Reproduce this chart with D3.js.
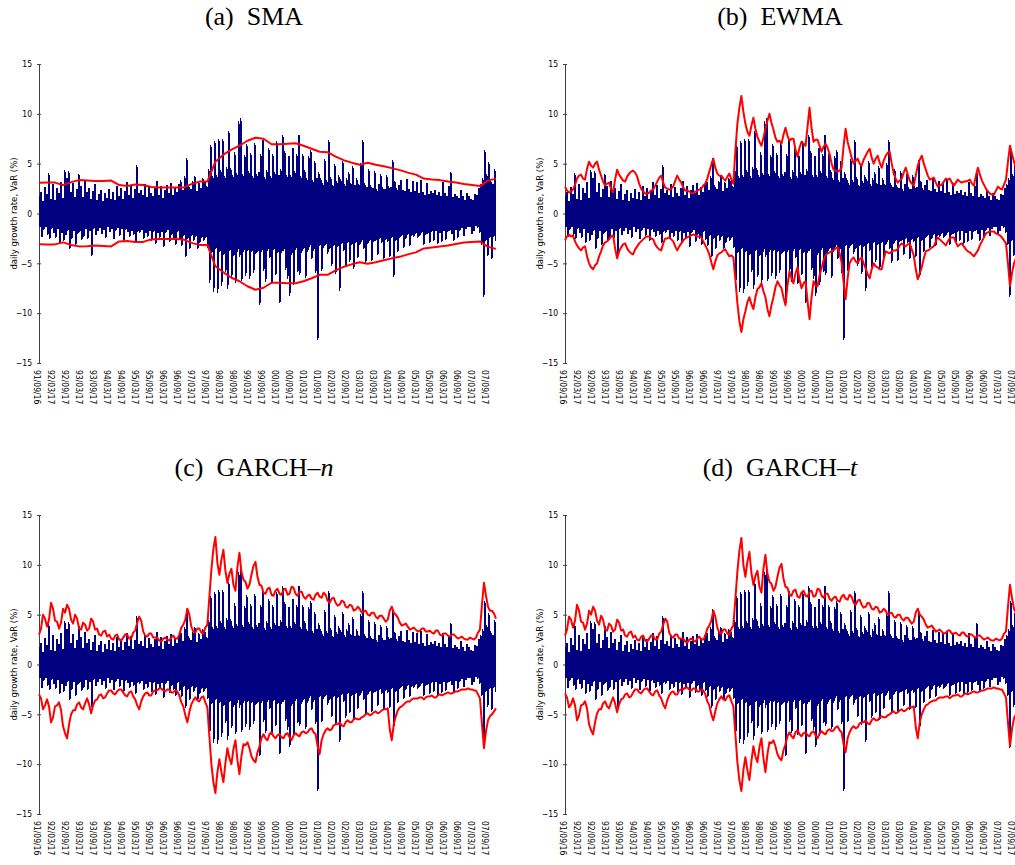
<!DOCTYPE html>
<html>
<head>
<meta charset="utf-8">
<script src="https://cdn.jsdelivr.net/npm/d3@7"></script>
<style>
  html, body { margin: 0; padding: 0; background: #fff; }
  svg { display: block; }
  .title { font-family: "Liberation Serif", "Times New Roman", serif; font-size: 26px; fill: #000; white-space: pre; }
  .ylab { font-family: "DejaVu Sans Condensed", "DejaVu Sans", sans-serif; font-size: 9.5px; fill: #000; }
  .tick text, .xlab { font-family: "DejaVu Sans Condensed", "DejaVu Sans", sans-serif; font-size: 8.5px; fill: #000; }
</style>
</head>
<body>
<svg id="chart" width="1015" height="865"></svg>
<script>
// Daily growth rate (%) of the index, one value per plotted step, 1991/09/16 onward
const growthRate = [
  1.8,-1.4,2.2,-2.4,1.3,-1.7,2.7,-1.4,2.0,-2.2,
  4.1,-2.6,1.5,-1.6,3.0,-2.0,1.4,-2.5,2.6,-1.6,
  2.1,-3.0,3.2,-2.0,1.6,-2.8,4.4,-2.2,3.6,-1.8,
  4.3,-3.6,2.2,-2.6,3.1,-1.8,1.7,-3.2,2.5,-2.1,
  4.0,-1.9,2.8,-2.7,1.7,-2.4,3.3,-1.6,2.2,-2.6,
  2.6,-1.8,1.5,-4.3,2.3,-1.6,3.0,-2.2,1.4,-1.8,
  2.0,-1.5,2.4,-2.1,1.3,-1.7,2.1,-2.5,1.6,-1.4,
  2.5,-1.9,1.5,-1.6,2.2,-2.6,1.4,-1.8,2.8,-1.5,
  1.8,-2.3,2.6,-1.6,1.5,-2.8,2.3,-1.7,3.2,-1.9,
  1.9,-2.4,2.9,-1.8,1.6,-2.2,2.5,-3.0,4.9,-1.9,2.1,
  -2.0,2.4,-1.7,1.9,-2.6,3.0,-2.0,1.7,-2.4,2.7,
  -1.8,2.1,-2.8,1.8,-1.9,2.6,-3.1,3.3,-2.0,1.9,
  -2.5,2.8,-1.9,1.6,-3.4,2.4,-2.0,2.9,-1.7,2.1,
  -2.9,3.1,-2.2,1.9,-2.6,2.7,-3.2,2.2,-1.9,3.0,
  -2.7,3.4,-3.3,2.4,-2.3,3.8,-4.4,5.6,-2.6,2.9,
  -3.6,2.5,-2.3,3.3,-2.8,3.8,-2.4,2.3,-3.6,3.2,
  -3.0,2.6,-2.5,3.6,-2.8,3.3,-2.5,2.8,-3.5,4.5,
  -7.0,6.9,-4.0,3.8,-7.9,7.3,-3.6,3.9,-8.0,7.5,
  -3.9,4.4,-7.3,7.5,-4.2,3.8,-5.9,4.7,-7.6,8.3,
  -3.8,4.6,-6.4,3.9,-4.3,6.2,-7.0,4.1,-3.9,9.3,
  -4.4,9.6,-6.8,4.0,-3.9,5.9,-6.3,7.0,-3.8,4.3,
  -6.6,6.1,-3.9,3.8,-6.0,7.1,-4.1,4.0,-3.9,4.2,
  -9.2,6.0,-3.9,7.4,-5.8,3.7,-6.9,4.4,-3.8,6.6,
  -4.5,3.8,-7.1,6.0,-3.7,4.2,-6.2,7.3,-4.0,3.9,
  -9.0,4.5,-4.0,7.9,-3.8,6.3,-5.7,3.9,-6.6,5.8,
  -8.3,3.9,-4.2,6.6,-7.2,4.3,-3.7,6.0,-5.9,
  7.9,-6.2,3.8,-4.0,6.0,-3.6,4.4,-6.5,3.6,-3.9,
  5.8,-3.4,6.4,-4.6,3.4,-3.8,5.3,-6.0,3.6,-12.7,
  4.2,-3.3,3.6,-5.8,3.1,-3.5,5.5,-3.2,3.4,-4.1,
  7.4,-3.6,3.7,-5.3,2.9,-3.3,5.0,-6.1,3.3,-3.4,3.9,
  -7.8,3.5,-3.1,5.3,-3.8,3.0,-5.4,3.6,-3.0,4.2,
  -4.9,3.1,-3.2,4.8,-5.6,2.9,-3.0,3.6,-4.5,3.0,
  -3.2,5.1,-2.9,7.4,-3.6,3.1,-5.0,2.7,-3.1,4.5,
  -2.8,2.9,-4.8,2.6,-2.9,4.3,-2.8,2.5,-4.2,3.0,
  -2.6,4.0,-3.0,2.7,-4.6,2.5,-2.7,3.9,-2.9,2.8,
  -4.4,2.7,-2.5,5.4,-6.4,3.3,-2.8,2.6,-3.9,2.9,
  -2.5,3.4,-2.3,2.4,-3.5,2.3,-2.6,3.5,-2.2,2.5,
  -3.3,2.2,-2.3,3.3,-2.4,2.3,-2.1,3.2,-2.5,2.1,
  -2.3,3.4,-2.0,2.2,-3.2,1.9,-2.2,3.1,-2.1,
  2.0,-3.0,2.3,-1.9,2.1,-2.8,2.4,-1.8,1.9,-3.1,
  2.2,-2.0,1.8,-2.9,3.2,-1.8,2.1,-2.7,1.8,-1.9,
  2.8,-1.8,4.2,-2.1,1.7,-2.8,2.0,-1.7,1.8,-2.5,
  1.6,-1.8,2.4,-1.5,1.8,-2.3,1.4,-1.6,2.1,-1.4,
  1.8,-1.4,1.5,-2.1,1.4,-1.8,2.0,-1.3,1.9,-1.5,
  2.6,-2.0,3.0,-3.2,3.6,-8.4,6.4,-2.8,4.0,-4.3,
  5.2,-2.5,3.4,-4.6,3.0,-2.4,4.5,-2.8
];

// VaR bands (%), evenly spaced over the same period
const smaUpper = [3.08,3.10,3.10,2.85,3.15,3.35,3.30,3.25,3.25,3.30,2.85,2.75,2.90,2.85,2.65,2.60,2.60,2.60,2.60,2.95,3.20,3.20,5.2,5.9,6.4,6.8,7.3,7.6,7.5,6.95,6.95,7.0,7.05,6.8,6.5,6.2,6.15,5.7,5.35,5.1,4.9,5.1,4.9,4.75,4.55,4.35,4.1,3.9,3.5,3.4,3.35,3.2,3.1,2.95,2.85,2.75,3.3,3.5];
const smaLower = [-3.08,-3.12,-3.10,-2.90,-3.15,-3.30,-3.28,-3.20,-3.25,-3.30,-2.80,-2.75,-2.85,-2.85,-2.60,-2.55,-2.55,-2.55,-2.60,-2.95,-3.15,-3.15,-5.3,-5.9,-6.45,-6.8,-7.3,-7.65,-7.45,-6.95,-6.95,-7.0,-7.0,-6.8,-6.5,-6.15,-6.15,-5.7,-5.35,-5.1,-4.9,-5.05,-4.9,-4.7,-4.5,-4.35,-4.1,-3.9,-3.5,-3.4,-3.3,-3.2,-3.05,-2.9,-2.85,-2.8,-3.35,-3.55];

const ewmaUpper = [
  2.7,2.3,2.1,2.2,2.4,2.9,3.5,3.8,3.9,3.5,
  3.4,4.5,5.2,4.8,4.6,5.0,5.2,4.4,3.8,3.2,
  2.8,3.0,3.1,2.5,2.1,3.4,4.4,3.9,3.6,3.3,
  3.2,3.7,4.0,4.2,4.3,4.1,3.7,3.0,2.5,2.2,
  2.0,2.0,2.1,2.3,2.4,2.8,3.2,3.6,3.8,3.1,
  2.6,2.5,2.4,2.5,2.7,3.3,3.8,3.4,3.1,2.6,
  2.3,2.3,2.2,2.1,2.0,2.2,2.3,2.4,2.5,2.8,
  3.0,3.5,4.2,4.9,5.5,4.6,4.0,3.8,3.8,3.5,
  3.3,3.7,4.0,3.4,3.0,6.3,9.0,10.6,11.8,10.2,
  9.0,8.2,7.8,8.8,9.6,8.5,7.7,7.2,6.8,7.6,
  8.5,9.3,10.0,9.1,8.4,7.6,7.2,7.3,7.0,7.9,
  8.6,7.8,7.3,7.5,7.5,6.4,5.7,6.6,7.2,7.0,
  6.8,8.7,10.6,8.6,7.2,7.4,7.4,6.8,6.2,6.7,
  7.0,6.6,6.0,5.0,4.4,4.3,4.2,4.3,4.6,6.8,
  8.5,7.2,6.4,5.6,5.0,5.3,5.5,5.0,4.8,5.4,
  5.8,6.2,6.5,5.6,5.0,5.5,5.8,5.1,4.6,5.3,
  5.8,6.1,6.2,5.0,4.0,3.5,3.1,3.3,3.5,4.1,
  4.6,3.9,3.3,3.0,2.8,3.8,4.8,5.4,5.8,5.0,
  4.4,3.8,3.4,3.5,3.6,3.1,2.7,2.8,2.9,3.2,
  3.5,3.4,3.5,3.1,2.8,3.1,3.4,3.2,3.1,3.2,
  3.2,3.3,3.4,3.0,2.8,3.8,4.6,3.9,3.3,2.9,
  2.5,2.2,2.0,1.9,1.9,2.3,2.7,2.5,2.4,2.9,
  3.4,5.2,6.8,6.0,5.2,4.6,4.2,4.3,4.4
];
const ewmaLower = [
  -2.7,-2.3,-2.1,-2.3,-2.2,-2.8,-3.2,-3.5,-3.7,-3.4,
  -3.3,-4.3,-5.0,-5.4,-5.6,-5.2,-5.0,-4.3,-3.8,-3.2,
  -2.9,-2.8,-2.6,-2.3,-2.2,-3.5,-4.5,-3.8,-3.4,-3.1,
  -3.0,-3.5,-3.8,-4.0,-4.1,-3.6,-3.3,-3.0,-2.8,-2.6,
  -2.4,-2.3,-2.3,-2.5,-2.6,-3.1,-3.4,-3.6,-3.7,-3.0,
  -2.5,-2.5,-2.4,-2.6,-2.8,-3.3,-3.7,-3.3,-3.0,-2.7,
  -2.5,-2.4,-2.3,-2.2,-2.1,-2.2,-2.3,-2.3,-2.4,-2.8,
  -3.2,-3.6,-4.1,-4.9,-5.6,-4.8,-4.2,-4.0,-3.9,-3.7,
  -3.6,-4.0,-4.3,-4.2,-4.4,-6.6,-9.0,-10.8,-11.9,-10.6,
  -9.8,-8.9,-8.4,-9.1,-9.6,-8.4,-7.6,-7.4,-7.0,-7.8,
  -8.4,-9.6,-10.3,-9.2,-8.4,-7.4,-6.8,-7.2,-7.5,-8.4,
  -9.2,-7.2,-5.8,-6.5,-7.0,-6.0,-5.4,-6.6,-7.5,-7.0,
  -6.8,-8.8,-10.6,-8.4,-6.8,-7.2,-7.3,-6.2,-5.5,-4.7,
  -4.2,-4.0,-3.9,-3.8,-3.7,-3.5,-3.4,-4.0,-4.9,-6.9,
  -8.6,-6.5,-5.0,-4.6,-4.4,-4.8,-5.0,-4.6,-4.4,-5.0,
  -5.5,-6.1,-6.5,-5.6,-5.0,-5.3,-5.4,-5.6,-5.6,-4.6,
  -3.8,-3.9,-4.0,-3.8,-3.7,-3.7,-3.6,-3.2,-3.0,-3.2,
  -3.3,-3.1,-3.0,-3.6,-4.2,-5.6,-6.6,-6.0,-5.4,-4.5,
  -3.8,-3.7,-3.6,-3.4,-3.3,-2.8,-2.4,-2.6,-2.8,-3.0,
  -3.2,-2.8,-2.5,-2.4,-2.4,-2.9,-3.3,-3.1,-3.0,-3.3,
  -3.6,-3.8,-3.9,-4.1,-4.3,-4.0,-3.7,-3.2,-2.8,-2.4,
  -2.0,-1.9,-1.8,-1.8,-1.8,-2.0,-2.1,-2.2,-2.4,-2.7,
  -3.0,-5.0,-7.3,-6.0,-5.0,-4.5,-4.0,-4.1,-4.2
];

const garchNUpper = [
  3.0,3.6,5.0,4.6,3.8,4.5,6.2,5.6,4.4,4.3,
  3.6,4.2,5.6,5.2,6.0,5.6,4.5,4.1,5.0,4.6,
  3.6,3.5,4.2,4.0,3.4,3.6,4.6,4.3,3.5,3.6,
  3.0,2.9,3.3,3.4,2.8,3.0,2.6,2.5,2.9,3.0,
  2.5,2.4,2.7,3.0,3.0,2.6,2.6,3.2,3.4,4.2,
  4.8,4.4,3.3,2.9,2.8,3.1,3.1,2.7,2.7,2.7,
  2.4,2.3,2.6,2.7,2.5,2.4,2.7,2.9,2.6,2.6,
  3.0,3.7,4.0,4.5,5.6,5.0,3.8,3.3,3.2,3.6,
  3.6,3.2,3.1,3.7,4.0,6.8,9.5,11.6,12.8,10.2,
  9.0,10.5,11.5,9.4,8.2,9.1,9.6,8.0,7.4,9.8,
  11.2,9.3,8.5,8.3,7.6,8.0,9.0,9.9,10.3,8.8,
  8.0,7.9,7.2,7.1,7.6,7.7,7.0,6.9,7.4,7.6,
  7.1,7.0,7.5,7.6,7.0,7.1,7.8,7.7,7.1,6.9,
  7.3,7.3,6.8,6.6,6.9,7.0,6.6,6.5,7.0,7.2,
  6.8,6.7,7.2,7.0,6.4,6.2,6.6,6.7,6.2,5.9,
  6.0,6.4,6.3,5.8,5.7,6.0,5.9,5.4,5.5,5.8,
  5.6,5.2,5.3,5.4,5.0,4.9,5.2,5.2,4.8,4.6,
  4.9,4.9,4.6,4.3,4.5,5.4,5.8,5.2,5.0,4.7,
  4.2,3.9,4.0,4.1,3.8,3.5,3.6,3.7,3.5,3.3,
  3.4,3.6,3.6,3.3,3.3,3.4,3.2,3.1,3.4,3.4,
  3.0,2.9,3.1,3.1,2.9,2.8,3.0,3.0,2.8,2.6,
  2.7,2.8,2.6,2.5,2.5,2.7,2.6,2.5,2.7,3.2,
  3.5,6.0,8.2,6.9,5.8,5.4,5.4,5.1,4.6
];
const garchNLower = [
  -3.0,-3.4,-4.5,-4.1,-3.5,-4.2,-5.8,-5.3,-4.2,-4.1,
  -3.8,-4.6,-6.2,-6.9,-7.4,-6.0,-5.0,-4.6,-4.6,-4.0,
  -3.8,-4.3,-4.5,-3.9,-3.4,-4.0,-4.9,-4.1,-3.6,-3.5,
  -3.1,-3.0,-3.4,-3.3,-2.9,-2.6,-2.6,-2.9,-3.0,-2.7,
  -2.5,-2.5,-2.8,-3.1,-3.2,-2.8,-2.7,-3.2,-3.5,-4.1,
  -4.5,-3.7,-3.2,-2.9,-2.8,-3.1,-3.1,-2.7,-2.6,-2.6,
  -2.4,-2.4,-2.6,-2.7,-2.5,-2.5,-2.8,-2.8,-2.6,-2.7,
  -3.1,-3.8,-4.2,-5.1,-5.8,-4.8,-4.0,-3.6,-3.3,-3.6,
  -3.7,-3.3,-3.2,-3.8,-4.3,-7.2,-10.0,-11.8,-12.9,-10.8,
  -9.5,-10.8,-11.8,-9.9,-8.4,-9.4,-10.0,-8.5,-7.6,-9.6,
  -11.0,-9.2,-8.0,-8.1,-7.8,-8.4,-9.2,-9.6,-9.8,-8.8,
  -8.2,-7.4,-7.0,-7.4,-7.6,-7.0,-6.8,-7.2,-7.4,-7.1,
  -7.0,-7.3,-7.4,-7.0,-6.9,-7.3,-7.6,-7.1,-6.9,-7.1,
  -7.2,-6.8,-6.7,-6.9,-6.8,-6.5,-6.4,-6.8,-7.0,-8.2,
  -9.0,-7.6,-7.0,-6.6,-6.4,-6.6,-6.5,-6.1,-6.0,-6.0,
  -5.8,-6.1,-6.2,-5.8,-5.6,-5.8,-5.8,-5.5,-5.4,-5.5,
  -5.5,-5.3,-5.2,-5.0,-4.9,-5.1,-5.0,-4.8,-4.7,-4.9,
  -4.8,-4.6,-4.5,-4.5,-4.4,-6.5,-7.6,-6.0,-5.2,-4.6,
  -4.3,-4.2,-4.0,-3.8,-3.7,-3.7,-3.5,-3.4,-3.4,-3.4,
  -3.3,-3.3,-3.5,-3.3,-3.2,-3.2,-3.1,-3.3,-3.3,-3.1,
  -3.0,-3.1,-3.0,-2.9,-2.8,-2.9,-2.9,-2.8,-2.7,-2.7,
  -2.6,-2.5,-2.5,-2.5,-2.4,-2.5,-2.5,-2.6,-2.6,-3.0,
  -3.4,-6.0,-8.4,-6.7,-5.6,-5.2,-5.0,-4.7,-4.4
];

const garchTUpper = [
  2.9,3.5,4.8,4.5,3.7,4.4,6.0,5.4,4.3,4.2,
  3.5,4.1,5.4,5.0,5.8,5.4,4.4,4.0,4.9,4.5,
  3.5,3.4,4.1,3.9,3.3,3.5,4.5,4.2,3.4,3.5,
  2.9,2.8,3.2,3.3,2.7,2.9,2.5,2.4,2.8,2.9,
  2.4,2.3,2.6,2.9,2.9,2.5,2.5,3.1,3.3,4.0,
  4.6,4.3,3.2,2.8,2.7,3.0,3.0,2.6,2.6,2.6,
  2.3,2.2,2.5,2.6,2.4,2.3,2.6,2.8,2.5,2.5,
  2.9,3.6,3.9,4.4,5.4,4.8,3.7,3.2,3.1,3.5,
  3.5,3.1,3.0,3.6,3.9,6.6,9.3,11.4,12.7,10.0,
  8.8,10.3,11.3,9.2,8.0,8.9,9.4,7.8,7.2,9.6,
  11.0,9.1,8.3,8.1,7.4,7.8,8.8,9.7,10.1,8.6,
  7.8,7.7,7.0,6.9,7.4,7.5,6.8,6.7,7.2,7.4,
  6.9,6.8,7.3,7.4,6.8,6.9,7.6,7.5,6.9,6.7,
  7.1,7.1,6.6,6.4,6.7,6.8,6.4,6.3,6.8,7.0,
  6.6,6.5,7.0,6.8,6.2,6.0,6.4,6.5,6.0,5.7,
  5.8,6.2,6.1,5.6,5.5,5.8,5.7,5.2,5.3,5.6,
  5.4,5.0,5.1,5.2,4.8,4.7,5.0,5.0,4.6,4.4,
  4.7,4.7,4.4,4.1,4.3,5.2,5.6,5.0,4.8,4.5,
  4.0,3.7,3.8,3.9,3.6,3.3,3.4,3.5,3.3,3.1,
  3.2,3.4,3.4,3.1,3.1,3.2,3.0,2.9,3.2,3.2,
  2.9,2.8,3.0,3.0,2.8,2.7,2.9,2.9,2.7,2.5,
  2.6,2.7,2.5,2.4,2.4,2.6,2.5,2.4,2.6,3.1,
  3.3,5.8,8.0,6.7,5.6,5.2,5.2,4.9,4.4
];
const garchTLower = [
  -2.9,-3.3,-4.3,-4.0,-3.4,-4.1,-5.6,-5.1,-4.1,-4.0,
  -3.7,-4.4,-6.0,-6.6,-7.0,-5.8,-4.9,-4.5,-4.5,-3.9,
  -3.7,-4.2,-4.4,-3.8,-3.3,-3.9,-4.8,-4.0,-3.5,-3.4,
  -3.0,-2.9,-3.3,-3.2,-2.8,-2.5,-2.5,-2.8,-2.9,-2.6,
  -2.4,-2.4,-2.7,-3.0,-3.1,-2.7,-2.6,-3.1,-3.4,-4.0,
  -4.4,-3.6,-3.1,-2.8,-2.7,-3.0,-3.0,-2.6,-2.5,-2.5,
  -2.3,-2.3,-2.5,-2.6,-2.4,-2.4,-2.7,-2.7,-2.5,-2.6,
  -3.0,-3.7,-4.1,-5.0,-5.6,-4.7,-3.9,-3.5,-3.2,-3.5,
  -3.6,-3.2,-3.1,-3.7,-4.2,-7.0,-9.8,-11.6,-12.7,-10.6,
  -9.3,-10.6,-11.6,-9.7,-8.2,-9.2,-9.8,-8.3,-7.4,-9.4,
  -10.8,-9.0,-7.8,-7.9,-7.6,-8.2,-9.0,-9.4,-9.6,-8.6,
  -8.0,-7.2,-6.8,-7.2,-7.4,-6.8,-6.6,-7.0,-7.2,-6.9,
  -6.8,-7.1,-7.2,-6.8,-6.7,-7.1,-7.4,-6.9,-6.7,-6.9,
  -7.0,-6.6,-6.5,-6.7,-6.6,-6.3,-6.2,-6.6,-6.8,-8.0,
  -8.8,-7.4,-6.8,-6.4,-6.2,-6.4,-6.3,-5.9,-5.8,-5.8,
  -5.6,-5.9,-6.0,-5.6,-5.4,-5.6,-5.6,-5.3,-5.2,-5.3,
  -5.3,-5.1,-5.0,-4.8,-4.7,-4.9,-4.8,-4.6,-4.5,-4.7,
  -4.6,-4.4,-4.3,-4.3,-4.2,-6.3,-7.4,-5.8,-5.0,-4.5,
  -4.1,-4.0,-3.8,-3.7,-3.6,-3.6,-3.4,-3.3,-3.3,-3.3,
  -3.2,-3.2,-3.4,-3.2,-3.1,-3.1,-3.0,-3.2,-3.2,-3.0,
  -2.9,-3.0,-2.9,-2.8,-2.7,-2.8,-2.8,-2.7,-2.6,-2.6,
  -2.5,-2.4,-2.4,-2.4,-2.3,-2.4,-2.4,-2.5,-2.5,-2.9,
  -3.3,-5.8,-8.2,-6.5,-5.4,-5.0,-4.8,-4.5,-4.2
];

const dateLabels = ["91/09/16","92/03/17","92/09/17","93/03/17","93/09/17","94/03/17","94/09/17",
  "95/03/17","95/09/17","96/03/17","96/09/17","97/03/17","97/09/17","98/03/17","98/09/17",
  "99/03/17","99/09/17","00/03/17","00/09/17","01/03/17","01/09/17","02/03/17","02/09/17",
  "03/03/17","03/09/17","04/03/17","04/09/17","05/03/17","05/09/17","06/03/17","06/09/17",
  "07/03/17","07/09/17"];
const yTicks = [-15, -10, -5, 0, 5, 10, 15];

const panels = [
  { key: "(a)", name: "SMA", italic: "", upper: smaUpper, lower: smaLower, dx: 0, dy: 0 },
  { key: "(b)", name: "EWMA", italic: "", upper: ewmaUpper, lower: ewmaLower, dx: 526, dy: 0 },
  { key: "(c)", name: "GARCH\u2013", italic: "n", upper: garchNUpper, lower: garchNLower, dx: 0, dy: 451 },
  { key: "(d)", name: "GARCH\u2013", italic: "t", upper: garchTUpper, lower: garchTLower, dx: 526, dy: 451 }
];

const svg = d3.select("#chart");
const parseDate = d3.timeParse("%y/%m/%d");
const plotLeft = 39, plotRight = 496, plotTop = 64, plotBottom = 363;

const x = d3.scaleTime()
  .domain([new Date(1991, 8, 16), new Date(2007, 11, 31)])
  .range([plotLeft, plotRight]);
const y = d3.scaleLinear().domain([-15, 15]).range([plotBottom, plotTop]);

panels.forEach(p => {
  const g = svg.append("g").attr("transform", `translate(${p.dx},${p.dy})`);

  // title
  const t = g.append("text").attr("class", "title")
    .attr("x", 254).attr("y", 24.5).attr("text-anchor", "middle");
  t.append("tspan").text(p.key + "  " + p.name);
  if (p.italic) t.append("tspan").attr("font-style", "italic").text(p.italic);

  // y axis
  const ax = g.append("g").attr("transform", `translate(${plotLeft},0)`)
    .call(d3.axisLeft(y).tickValues(yTicks).tickSize(2).tickSizeOuter(0).tickPadding(5));
  ax.select(".domain").attr("stroke", "#404040");
  ax.selectAll(".tick line").attr("x1", 2).attr("x2", -2).attr("stroke", "#404040");
  ax.attr("font-family", null).attr("font-size", null);

  g.append("text").attr("class", "ylab")
    .attr("transform", `translate(14,${(plotTop + plotBottom) / 2}) rotate(-90)`)
    .attr("text-anchor", "middle").attr("dy", "0.35em")
    .text("daily growth rate, VaR (%)");

  // date labels
  g.selectAll(".xlab").data(dateLabels).join("text")
    .attr("class", "xlab")
    .attr("transform", d => `translate(${x(parseDate(d)) - 2.5},370) rotate(90)`)
    .attr("dy", "0.35em")
    .text(d => d);

  // daily growth rate
  const xr = d3.scaleLinear().domain([0, growthRate.length - 1]).range([plotLeft, plotRight]);
  g.append("path").datum(growthRate)
    .attr("fill", "none").attr("stroke", "#000080").attr("stroke-width", 1)
    .attr("shape-rendering", "crispEdges")
    .attr("d", d3.line().x((d, i) => xr(i)).y(d => y(d)));

  // VaR bands
  [p.upper, p.lower].forEach(arr => {
    const xb = d3.scaleLinear().domain([0, arr.length - 1]).range([plotLeft, plotRight]);
    g.append("path").datum(arr)
      .attr("fill", "none").attr("stroke", "#ff0000").attr("stroke-width", 2)
      .attr("stroke-linejoin", "round")
      .attr("d", d3.line().x((d, i) => xb(i)).y(d => y(d)));
  });
});
</script>
</body>
</html>
